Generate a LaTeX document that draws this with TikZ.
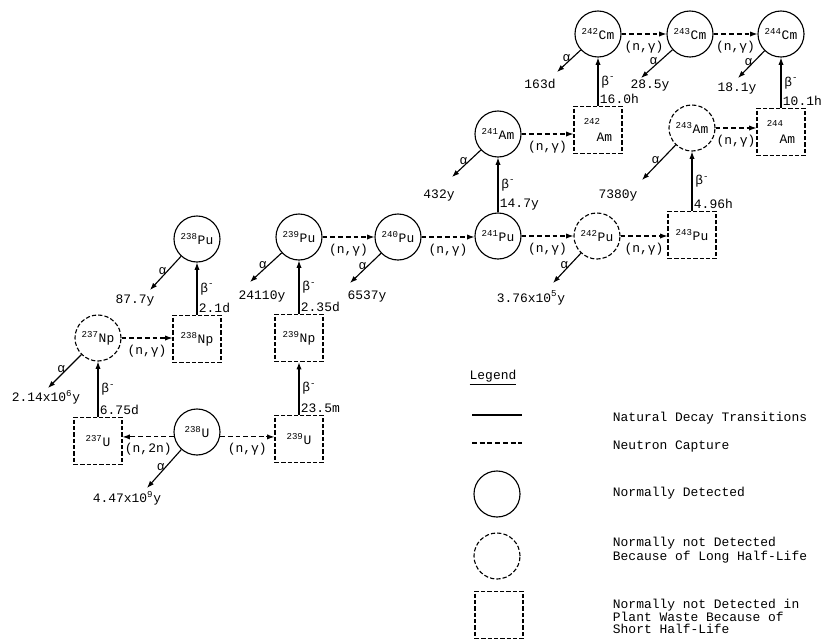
\documentclass[tikz,border=0pt]{standalone}
\usepackage{fontspec}
\setmonofont{Liberation Mono}
\usetikzlibrary{arrows.meta, positioning}

\begin{document}
\begin{tikzpicture}[
    x=0.025cm, y=-0.025cm,
    font=\ttfamily\fontsize{9.2}{8.2}\selectfont,
    seen/.style={
        circle,
        draw,
        line width=0.8pt,
        minimum size=1.15cm,
        inner sep=0pt
    },
    longlived/.style={seen, dash pattern=on 3pt off 1.5pt},
    shortlived/.style={
        rectangle,
        draw,
        line width=0.8pt,
        dash pattern=on 3pt off 1.5pt,
        minimum width=1.2cm,
        minimum height=1.18cm,
        inner sep=1pt
    },
    decay/.style={-{Latex[length=1.8mm, width=1.3mm]}, line width=0.8pt},
    capture/.style={decay, dash pattern=on 3.5pt off 2pt},
    greek/.style={inner sep=1pt},
    halflife/.style={inner sep=1pt, anchor=south west}
]
\useasboundingbox (0,0) rectangle (829,640);

% uranium and neptunium
\node[shortlived] (u237) at (98,441) {\textsuperscript{237}U};
\node[seen] (u238) at (197,432) {\textsuperscript{238}U};
\node[shortlived] (u239) at (299,439) {\textsuperscript{239}U};
\node[longlived] (np237) at (98,338) {\textsuperscript{237}Np};
\node[shortlived] (np238) at (197,339) {\textsuperscript{238}Np};
\node[shortlived] (np239) at (299,338) {\textsuperscript{239}Np};

% plutonium
\node[seen] (pu238) at (197,239) {\textsuperscript{238}Pu};
\node[seen] (pu239) at (299,237) {\textsuperscript{239}Pu};
\node[seen] (pu240) at (398,237) {\textsuperscript{240}Pu};
\node[seen] (pu241) at (498,236) {\textsuperscript{241}Pu};
\node[longlived] (pu242) at (597,236) {\textsuperscript{242}Pu};
\node[shortlived] (pu243) at (692,235) {\textsuperscript{243}Pu};

% americium and curium
\node[seen] (am241) at (498,134) {\textsuperscript{241}Am};
\node[shortlived, align=left] (am242) at (598,130) {\textsuperscript{242}\\\hspace*{1em}Am};
\node[longlived] (am243) at (692,128) {\textsuperscript{243}Am};
\node[shortlived, align=left] (am244) at (781,132) {\textsuperscript{244}\\\hspace*{1em}Am};
\node[seen] (cm242) at (598,34) {\textsuperscript{242}Cm};
\node[seen] (cm243) at (690,34) {\textsuperscript{243}Cm};
\node[seen] (cm244) at (781,34) {\textsuperscript{244}Cm};

% neutron capture
\draw[capture] (u238.192) -- (u238.192 -| u237.east) node[midway, below=1pt]{(n,2n)};
\draw[capture] (u238.-12) -- (u238.-12 -| u239.west) node[midway, below=1pt]{(n,γ)};
\draw[capture] (np237) -- (np237 -| np238.west) node[midway, below=1pt]{(n,γ)};
\draw[capture] (pu239) -- (pu239 -| pu240.west) node[midway, below=1pt]{(n,γ)};
\draw[capture] (pu240) -- (pu240 -| pu241.west) node[midway, below=1pt]{(n,γ)};
\draw[capture] (pu241) -- (pu241 -| pu242.west) node[midway, below=1pt]{(n,γ)};
\draw[capture] (pu242) -- (pu242 -| pu243.west) node[midway, below=1pt]{(n,γ)};
\draw[capture] (am241) -- (am241 -| am242.west) node[midway, below=1pt]{(n,γ)};
\draw[capture] (am243) -- (am243 -| am244.west) node[midway, below=1pt]{(n,γ)};
\draw[capture] (cm242) -- (cm243) node[midway, below=1pt]{(n,γ)};
\draw[capture] (cm243) -- (cm244) node[midway, below=1pt]{(n,γ)};

% beta decay
\draw[decay] (u237) -- (np237) node[midway, right=1pt, greek]{β\textsuperscript{-}} node[pos=0, halflife]{6.75d};
\draw[decay] (u239) -- (np239) node[midway, right=1pt, greek]{β\textsuperscript{-}} node[pos=0, halflife]{23.5m};
\draw[decay] (np238) -- (pu238) node[midway, right=1pt, greek]{β\textsuperscript{-}} node[pos=0, halflife]{2.1d};
\draw[decay] (np239) -- (pu239) node[midway, right=1pt, greek]{β\textsuperscript{-}} node[pos=0, halflife]{2.35d};
\draw[decay] (pu241) -- (am241) node[midway, right=1pt, greek]{β\textsuperscript{-}} node[pos=0, halflife]{14.7y};
\draw[decay] (pu243) -- (am243) node[midway, right=1pt, greek]{β\textsuperscript{-}} node[pos=0, halflife]{4.96h};
\draw[decay] (am242) -- (cm242) node[midway, right=1pt, greek]{β\textsuperscript{-}} node[pos=0, halflife]{16.0h};
\draw[decay] (am244) -- (cm244) node[midway, right=1pt, greek]{β\textsuperscript{-}} node[pos=0, halflife]{10.1h};

% alpha decay
\coordinate (u238a) at (147,488);
\coordinate (np237a) at (48,388);
\coordinate (pu238a) at (150,290);
\coordinate (pu239a) at (250,282);
\coordinate (pu240a) at (350,283);
\coordinate (pu242a) at (553,283);
\coordinate (am241a) at (452,177);
\coordinate (am243a) at (642,180);
\coordinate (cm242a) at (557,72);
\coordinate (cm243a) at (641,78);
\coordinate (cm244a) at (738,78);

\draw[decay] (u238) -- (u238a) node[pos=0.6, above, greek]{α};
\draw[decay] (np237) -- (np237a) node[pos=0.6, above, greek]{α};
\draw[decay] (pu238) -- (pu238a) node[pos=0.6, above, greek]{α};
\draw[decay] (pu239) -- (pu239a) node[pos=0.6, above, greek]{α};
\draw[decay] (pu240) -- (pu240a) node[pos=0.6, above, greek]{α};
\draw[decay] (pu242) -- (pu242a) node[pos=0.6, above, greek]{α};
\draw[decay] (am241) -- (am241a) node[pos=0.6, above, greek]{α};
\draw[decay] (am243) -- (am243a) node[pos=0.6, above, greek]{α};
\draw[decay] (cm242) -- (cm242a) node[pos=0.6, above, greek]{α};
\draw[decay] (cm243) -- (cm243a) node[pos=0.6, above, greek]{α};
\draw[decay] (cm244) -- (cm244a) node[pos=0.6, above, greek]{α};

\node (u238t) at (127,498) {4.47x10\textsuperscript{9}y};
\node (np237t) at (46,397) {2.14x10\textsuperscript{6}y};
\node (pu238t) at (135,301) {87.7y};
\node (pu239t) at (262,297) {24110y};
\node (pu240t) at (367,297) {6537y};
\node (pu242t) at (531,298) {3.76x10\textsuperscript{5}y};
\node (am241t) at (439,196) {432y};
\node (am243t) at (618,196) {7380y};
\node (cm242t) at (540,84) {163d};
\node (cm243t) at (650,86) {28.5y};
\node (cm244t) at (737,89) {18.1y};

% legend
\node (legtitle) at (493,378) {\underline{Legend}};
\coordinate (solidL) at (472,415);
\coordinate (solidR) at (522,415);
\coordinate (dashL) at (472,443);
\coordinate (dashR) at (522,443);
\draw[line width=0.8pt] (solidL) -- (solidR);
\draw[line width=0.8pt, dash pattern=on 3.5pt off 2pt] (dashL) -- (dashR);
\node[seen] (legseen) at (497,494) {};
\node[longlived] (leglong) at (497,556) {};
\node[shortlived] (legshort) at (499,615) {};

\node[anchor=west] (txtdecay) at (608,418) {Natural Decay Transitions};
\node[anchor=west] (txtcapture) at (608,447) {Neutron Capture};
\node[anchor=west] (txtseen) at (608,493) {Normally Detected};
\node[anchor=west, align=left] (txtlong) at (608,550) {Normally not Detected\\Because of Long Half-Life};
\node[anchor=west, align=left] (txtshort) at (608,616) {Normally not Detected in\\Plant Waste Because of\\Short Half-Life};

\end{tikzpicture}
\end{document}
